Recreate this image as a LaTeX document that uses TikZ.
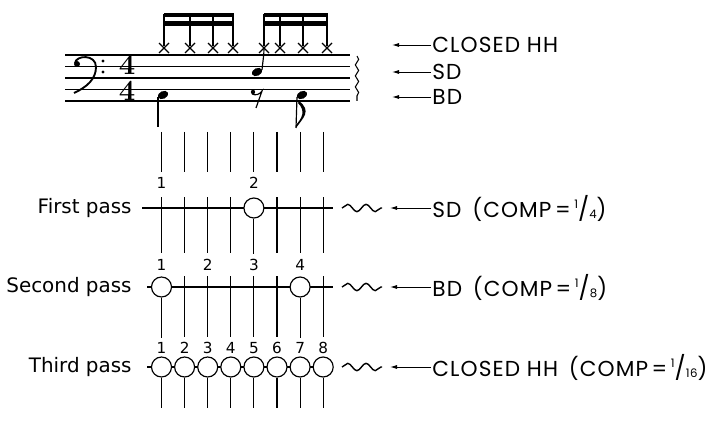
\documentclass[tikz,border=0pt]{standalone}
\usepackage{fontspec}
\setsansfont{DejaVu Sans}
\newfontfamily\capsfont{Poppins}[LetterSpace=5]
\renewcommand{\familydefault}{\sfdefault}
\usetikzlibrary{arrows.meta,positioning,decorations.pathmorphing}
\newcommand{\frc}[2]{\raisebox{0.75ex}{\fontsize{10}{10}\selectfont#1}{\fontsize{20}{20}\selectfont/}\raisebox{-0.1ex}{\fontsize{10}{10}\selectfont#2}}
\tikzset{
  grid/.style={line width=0.9pt},
  staffline/.style={line width=0.9pt},
  hit/.style={circle, draw, fill=white, line width=1pt, minimum size=0.6cm, inner sep=0pt},
  passname/.style={anchor=east, inner sep=1pt, font=\fontsize{17}{19}\selectfont},
  num/.style={inner sep=0pt, font=\fontsize{13}{14}\selectfont},
  voice/.style={anchor=west, inner sep=1pt, font=\capsfont\fontsize{18.5}{20}\selectfont},
  pointer/.style={-{Latex[length=6pt,width=3.5pt]}, line width=0.8pt},
  wave/.style={decorate, decoration={snake, amplitude=0.11cm, segment length=0.55cm}, line width=1.2pt},
  timesig/.style={inner sep=0pt, align=center, font=\rmfamily\bfseries\fontsize{25}{22}\selectfont}
}
\begin{document}
\begin{tikzpicture}[x=0.03cm, y=-0.03cm]
        \useasboundingbox (0,0) rectangle (718,422);
        % staff
        \foreach \y in {55,66.5,78,89.5,101}
          \draw[staffline] (65,\y) -- (350,\y);
        \draw[decorate, decoration={snake, amplitude=0.05cm, segment length=0.33cm}, line width=0.9pt] (357,56) -- (357,101);
        \fill (77,64) circle (3);
        \draw[line width=1.6pt] (75,63) .. controls (76,55) and (96,54) .. (96,67) .. controls (96,79) and (87,87) .. (74,93);
        \fill (103,61) circle (1.6);
        \fill (103,72) circle (1.6);
        \node[timesig] (ts) at (127,78) {4\\4};
        % closed hh
        \foreach \x in {164,190,213,233,264,280,303,327} {
          \draw[line width=1.1pt] (\x-5,43) -- (\x+5,53);
          \draw[line width=1.1pt] (\x+5,43) -- (\x-5,53);
          \draw[line width=1pt] (\x,46) -- (\x,14);
        }
        \foreach \a/\b in {164/233,264/327} {
          \fill (\a-0.5,13) rectangle (\b+0.5,17.5);
          \fill (\a-0.5,21.5) rectangle (\b+0.5,26);
        }
        % snare and bass
        \fill[rotate around={25:(257,72)}] (257,72) ellipse (5.5 and 3.8);
        \draw[line width=1pt] (262,70) .. controls (263,60) and (264,55) .. (264,48);
        \fill[rotate around={25:(163,95)}] (163,95) ellipse (5.5 and 3.8);
        \draw[line width=1pt] (158,97) -- (158,127);
        \fill[rotate around={25:(302,95)}] (302,95) ellipse (5.5 and 3.8);
        \draw[line width=1pt] (297,97) -- (296,128);
        \fill (296,128) .. controls (303,118) and (312,111) .. (299,101) -- (298,103) .. controls (306,111) and (302,118) .. (296,125) -- cycle;
        \fill (253,92) circle (2.2);
        \draw[line width=1pt] (252,94) .. controls (256,96) and (260,94) .. (262,91) -- (256,108);
        % voice labels, top
        \node[voice] (hh) at (431,45) {CLOSED HH};
        \node[voice] (sd) at (431,72) {SD};
        \node[voice] (bd) at (431,97) {BD};
        \foreach \n/\y in {hh/45,sd/72,bd/97} {
          \coordinate (\n t) at (392,\y);
          \draw[pointer] (\n.west) -- (\n t);
        }
        % sample grid
        \foreach \i in {1,...,8}
          \draw[grid] ({161.5+23.1*(\i-1)},132) -- ++(0,40);
        % first pass
        \node[passname] (pa) at (133,208) {First pass};
        \coordinate (pas) at (142,208);
        \coordinate (pae) at (333,208);
        \draw[grid] (pas) -- (pae);
        \foreach \i in {1,2,3,4,6,7,8}
          \draw[grid] ({161.5+23.1*(\i-1)},197) -- ++(0,56);
        \node[hit] (a5) at (253.9,208) {};
        \draw[grid] (a5.south) -- ++(0,35);
        \node[num] (na1) at (161.5,183) {1};
        \node[num] (na2) at (253.9,183) {2};
        % second pass
        \node[passname] (pb) at (133,287) {Second pass};
        \coordinate (pbs) at (147,287);
        \coordinate (pbe) at (333,287);
        \draw[grid] (pbs) -- (pbe);
        \foreach \i in {2,...,6,8}
          \draw[grid] ({161.5+23.1*(\i-1)},276) -- ++(0,61);
        \node[hit] (b1) at (161.5,287) {};
        \node[hit] (b7) at (300.1,287) {};
        \draw[grid] (b1.south) -- ++(0,40);
        \draw[grid] (b7.south) -- ++(0,40);
        \foreach \i/\c in {1/1,2/3,3/5,4/7}
          \node[num] (nb\i) at ({161.5+23.1*(\c-1)},265) {\i};
        % third pass
        \node[passname] (pc) at (133,367) {Third pass};
        \coordinate (pcs) at (147,367);
        \coordinate (pce) at (333,367);
        \draw[grid] (pcs) -- (pce);
        \foreach \i in {1,...,8} {
          \node[hit] (c\i) at ({161.5+23.1*(\i-1)},367) {};
          \draw[grid] (c\i.south) -- ++(0,30);
          \node[num] (nc\i) at ({161.5+23.1*(\i-1)},348) {\i};
        }
        % voice labels, passes
        \node[voice] (va) at (431,208) {SD\enspace(COMP\,=\,\frc14)};
        \node[voice] (vb) at (431,287) {BD\enspace(COMP\,=\,\frc18)};
        \node[voice] (vc) at (431,367) {CLOSED HH\enspace(COMP\,=\,\frc1{16})};
        \foreach \n/\y in {va/208,vb/287,vc/367} {
          \draw[wave] (342,\y) -- (382,\y);
          \coordinate (\n t) at (390,\y);
          \draw[pointer] (\n.west) -- (\n t);
        }
      \end{tikzpicture}
\end{document}
